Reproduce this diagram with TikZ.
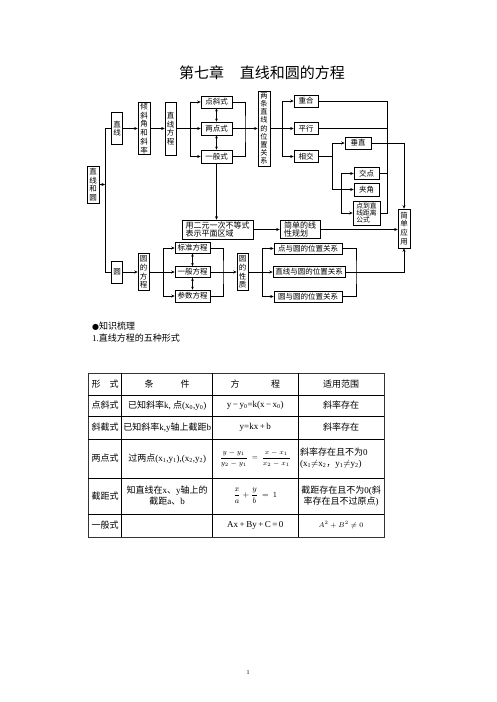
\documentclass[tikz,border=0pt]{standalone}
\usepackage{fontspec}
\setmainfont{Noto Sans CJK SC}
\newfontfamily\latinfont{Liberation Serif}
\newfontfamily\symfont{DejaVu Sans}
\usetikzlibrary{arrows.meta,positioning,calc}
\newcommand{\lat}[1]{{\latinfont #1}}

\begin{document}
\begin{tikzpicture}[
    x=1pt, y=-1pt,
    box/.style={rectangle, draw, line width=0.6pt, inner sep=0.3pt, align=center, font=\fontsize{7.5}{8.7}\selectfont},
    arrow/.style={-{Stealth[length=3.5pt,width=3pt]}, line width=0.5pt},
    dblarrow/.style={{Stealth[length=3pt,width=2.6pt]}-{Stealth[length=3pt,width=2.6pt]}, line width=0.5pt},
    link/.style={line width=0.5pt},
    cell/.style={align=center, inner sep=0pt, font=\fontsize{9}{11}\selectfont}
]
\useasboundingbox (0,0) rectangle (496,702);

% title
\node[font=\fontsize{15}{17}\selectfont] (title) at (262,73) {第七章\hspace{1.05em}直线和圆的方程};

% straight line part
\node[box, minimum width=12pt, minimum height=37pt] (root) at (93,184.5) {直\\线\\和\\圆};
\node[box, minimum width=11pt, minimum height=32pt] (line) at (117,128.5) {直\\线};
\node[box, minimum width=12pt, minimum height=52pt] (slope) at (144,128.5) {倾\\斜\\角\\和\\斜\\率};
\node[box, minimum width=11pt, minimum height=53pt] (lineeq) at (170.5,128.5) {直\\线\\方\\程};
\node[box, minimum width=31pt, minimum height=12pt] (ptslope) at (216.5,102) {点斜式};
\node[box, minimum width=31pt, minimum height=13pt] (twopt) at (216.5,128.5) {两点式};
\node[box, minimum width=31pt, minimum height=13pt] (general) at (216.5,156.5) {一般式};
\node[box, minimum width=12pt, minimum height=75pt, font=\fontsize{7.2}{8.2}\selectfont] (relation) at (264,128.5) {两\\条\\直\\线\\的\\位\\置\\关\\系};
\node[box, minimum width=24pt, minimum height=12pt] (coincide) at (306,101) {重合};
\node[box, minimum width=24pt, minimum height=12pt] (parallel) at (306,128.5) {平行};
\node[box, minimum width=24pt, minimum height=12pt] (intersect) at (306,156.5) {相交};
\node[box, minimum width=26pt, minimum height=12pt] (perp) at (358,143) {垂直};
\node[box, minimum width=25pt, minimum height=11.5pt] (crosspt) at (366.5,173.5) {交点};
\node[box, minimum width=25pt, minimum height=13pt] (angle) at (366.5,189.5) {夹角};
\node[box, minimum width=27pt, minimum height=24pt, align=left, font=\fontsize{6.8}{7.4}\selectfont] (distance) at (366.5,213) {点到直\\线距离\\公式};
\node[box, minimum width=12pt, minimum height=39pt] (apply) at (404,228.5) {简\\单\\应\\用};
\node[box, minimum width=71pt, minimum height=19pt, align=left, font=\fontsize{8}{8.6}\selectfont] (ineq) at (217.5,229.5) {用二元一次不等式\\表示平面区域};
\node[box, minimum width=40pt, minimum height=18pt, align=left, font=\fontsize{8}{8.6}\selectfont] (program) at (300,229.5) {简单的线\\性规划};

% circle part
\node[box, minimum width=11pt, minimum height=22pt] (circle) at (117,272) {圆};
\node[box, minimum width=11pt, minimum height=37pt] (circeq) at (143.5,272) {圆\\的\\方\\程};
\node[box, minimum width=35pt, minimum height=10.5pt] (standard) at (192.5,248) {标准方程};
\node[box, minimum width=35pt, minimum height=11pt] (genform) at (192.5,272) {一般方程};
\node[box, minimum width=35pt, minimum height=12pt] (param) at (192.5,296) {参数方程};
\node[box, minimum width=11pt, minimum height=37pt] (property) at (242.5,272) {圆\\的\\性\\质};
\node[box, minimum width=68pt, minimum height=11pt] (ptcirc) at (308,248.5) {点与圆的位置关系};
\node[box, minimum width=72pt, minimum height=11pt] (lncirc) at (309,272) {直线与圆的位置关系};
\node[box, minimum width=68pt, minimum height=11pt] (cccirc) at (308,296.5) {圆与圆的位置关系};

% connectors
\coordinate (trunktop) at (105,128.5);
\coordinate (trunkmid) at (105,184.5);
\coordinate (trunkbot) at (105,272);
\draw[link] (line.west) -- (trunktop) -- (trunkbot) -- (circle.west);
\draw[arrow] (root.east) -- (trunkmid);

\draw[arrow] (line) -- (slope);
\draw[arrow] (slope) -- (lineeq);
\draw[arrow] (lineeq) -- (twopt);
\coordinate (fork1) at (190,128.5);
\draw[arrow] (fork1) |- (ptslope.west);
\draw[arrow] (fork1) |- (general.west);
\draw[dblarrow] (ptslope) -- (twopt);
\draw[dblarrow] (twopt) -- (general);
\coordinate (join1) at (245,128.5);
\draw[link] (ptslope.east) -| (join1) |- (general.east);
\draw[arrow] (twopt) -- (relation);
\draw[arrow] (general.south) -- (general.south |- ineq.north);

\coordinate (fork2) at (282,128.5);
\draw[link] (relation) -- (fork2);
\draw[arrow] (fork2) |- (coincide.west);
\draw[arrow] (fork2) -- (parallel.west);
\draw[arrow] (fork2) |- (intersect.west);
\coordinate (collect) at (387,213);
\draw[link] (coincide.east) -| (collect) -- (distance.east);
\draw[link] (parallel.east) -- (parallel.east -| collect);
\draw[link] (crosspt.east) -- (crosspt.east -| collect);

\coordinate (fork3) at (332,156.5);
\draw[link] (intersect) -- (fork3);
\draw[arrow] (fork3) |- (perp.west);
\draw[arrow] (fork3) |- (angle.west);
\coordinate (fork4) at (341,189.5);
\draw[arrow] (fork4) |- (crosspt.west);
\draw[arrow] (fork4) |- (distance.west);
\draw[arrow] (perp.east) -| (apply.north);

\draw[arrow] (ineq) -- (program);
\draw[arrow] (program.east) -- (program.east -| apply.west);

\draw[arrow] (circle) -- (circeq);
\draw[arrow] (circeq) -- (genform);
\coordinate (fork5) at (163,272);
\draw[arrow] (fork5) |- (standard.west);
\draw[arrow] (fork5) |- (param.west);
\draw[dblarrow] (standard) -- (genform);
\draw[dblarrow] (genform) -- (param);
\coordinate (join5) at (223,272);
\draw[link] (standard.east) -| (join5) |- (param.east);
\draw[arrow] (genform) -- (property);
\draw[arrow] (property) -- (lncirc);
\coordinate (fork6) at (262,272);
\draw[arrow] (fork6) |- (ptcirc.west);
\draw[arrow] (fork6) |- (cccirc.west);
\coordinate (join6) at (356,272);
\draw[link] (ptcirc.east) -| (join6) |- (cccirc.east);
\draw[arrow] (lncirc.east) -| (apply.south);

% knowledge review
\node[anchor=west, inner sep=0pt, font=\fontsize{9}{11}\selectfont] (review) at (92,326) {{\symfont\fontsize{8}{10}\selectfont ●}知识梳理};
\node[anchor=west, inner sep=0pt, font=\fontsize{9}{11}\selectfont] (fiveforms) at (92,338.5) {\lat{1.}直线方程的五种形式};

% table
\draw[line width=0.9pt, black!80] (88,373) rectangle (384,537);
\foreach \y in {395,416,439,478,514}
    \draw[line width=0.5pt] (88,\y) -- (384,\y);
\foreach \x in {121.7,212.7,298}
    \draw[line width=0.5pt] (\x,373) -- (\x,537);

\node[cell] (h1) at (105,384) {形\hspace{1em}式};
\node[cell] (h2) at (167.2,384) {条\hspace{3em}件};
\node[cell] (h3) at (255.3,384) {方\hspace{3.5em}程};
\node[cell] (h4) at (341,384) {适用范围};

\node[cell] (r1c1) at (105,405.5) {点斜式};
\node[cell] (r1c2) at (167.2,405.5) {已知斜率\lat{k, }点\lat{(x\textsubscript{0},y\textsubscript{0})}};
\node[cell] (r1c3) at (255.3,405.5) {\lat{y\,−\,y\textsubscript{0}=k(x\,−\,x\textsubscript{0})}};
\node[cell] (r1c4) at (341,405.5) {斜率存在};

\node[cell] (r2c1) at (105,427.5) {斜截式};
\node[cell] (r2c2) at (167.2,427.5) {已知斜率\lat{k,y}轴上截距\lat{b}};
\node[cell] (r2c3) at (255.3,427.5) {\lat{y=kx\,+\,b}};
\node[cell] (r2c4) at (341,427.5) {斜率存在};

\node[cell] (r3c1) at (105,458.5) {两点式};
\node[cell] (r3c2) at (167.2,458.5) {过两点\lat{(x\textsubscript{1},y\textsubscript{1}),(x\textsubscript{2},y\textsubscript{2})}};
\node[cell, font=\fontsize{7}{8}\selectfont] (r3c3) at (255.3,458.5) {$\displaystyle\frac{y-y_1}{y_2-y_1}\ =\ \frac{x-x_1}{x_2-x_1}$};
\node[cell, anchor=west, align=left] (r3c4) at (300,458.5) {斜率存在且不为\lat{0}\\\lat{(x\textsubscript{1}}$\neq$\lat{x\textsubscript{2}}，\lat{y\textsubscript{1}}$\neq$\lat{y\textsubscript{2})}};

\node[cell] (r4c1) at (105,496) {截距式};
\node[cell] (r4c2) at (167.2,496) {知直线在\lat{x}、\lat{y}轴上的\\截距\lat{a}、\lat{b}};
\node[cell, font=\fontsize{8}{9}\selectfont] (r4c3) at (255.3,496) {$\displaystyle\frac{x}{a}+\frac{y}{b}\ =\ 1$};
\node[cell] (r4c4) at (341,496) {截距存在且不为\lat{0(}斜\\率存在且不过原点\lat{)}};

\node[cell] (r5c1) at (105,525.5) {一般式};
\node[cell] (r5c3) at (255.3,525.5) {\lat{Ax\,+\,By\,+\,C\,=\,0}};
\node[cell, font=\fontsize{7.5}{9}\selectfont] (r5c4) at (341,525) {$A^2+B^2\neq 0$};

% page number
\node[font=\fontsize{6}{7}\selectfont] (pageno) at (248,673) {\lat{1}};
\end{tikzpicture}
\end{document}
